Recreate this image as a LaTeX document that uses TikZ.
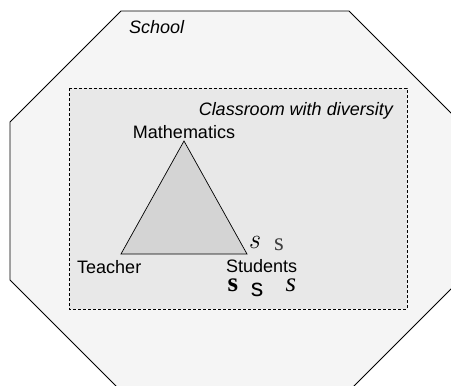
\documentclass[tikz,border=0pt]{standalone}
\usepackage{fontspec}
\setmainfont{Liberation Sans}
\newfontfamily\serifs{Liberation Serif}
\newfontfamily\lmr{Latin Modern Roman}
\usetikzlibrary{positioning}

\tikzset{
  lbl/.style={font=\fontsize{18}{20}\selectfont, inner sep=0pt, anchor=base},
  ess/.style={inner sep=0pt},
}

\begin{document}
\begin{tikzpicture}[x=1pt,y=-1pt]
\useasboundingbox (0,0) rectangle (451,386);
\clip (0,0) rectangle (451,386);
%----------------------------
% School (octagon)
%----------------------------
\draw[fill=black!4, line width=0.8pt]
  (121,11) -- (349,11) -- (460,122) -- (460,280) -- (348,392)
  -- (122,392) -- (10,280) -- (10,122) -- cycle;
\node[lbl, anchor=base west] (school) at (129,33.5) {\itshape School};

%----------------------------
% Classroom (dashed box)
%----------------------------
\draw[fill=black!9, dash pattern=on 3pt off 2pt, line width=0.7pt]
  (69,88) rectangle (407,309);
\node[lbl, anchor=base east] (room) at (393,115) {\itshape Classroom with diversity};

%----------------------------
% Didactic triangle
%----------------------------
\coordinate (m) at (184,141);
\coordinate (t) at (121,254);
\coordinate (s) at (247,254);
\draw[fill=black!17, line width=0.7pt] (m) -- (t) -- (s) -- cycle;

\node[lbl] (math) at (184,138.5) {Mathematics};
\node[lbl, anchor=base west] (teacher) at (77,273) {Teacher};
\node[lbl, anchor=base west] (students) at (226,272) {Students};

% the diverse students
\node[ess, font=\lmr\itshape\fontsize{28}{30}\selectfont] (s1) at (254,242) {s};
\node[ess, font=\serifs\fontsize{25}{27}\selectfont, text=black!75] (s2) at (279,245) {s};
\node[ess, font=\serifs\bfseries\fontsize{27}{29}\selectfont] (s3) at (233,285) {s};
\node[ess, font=\fontsize{25}{27}\selectfont] (s4) at (257,290) {s};
\node[ess, font=\serifs\itshape\fontsize{27}{29}\selectfont] (s5) at (291,285) {s};

\end{tikzpicture}
\end{document}
